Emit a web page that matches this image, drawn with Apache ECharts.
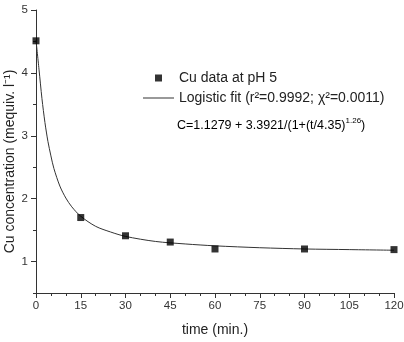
<!DOCTYPE html>
<html>
<head>
<meta charset="UTF-8">
<title>Cu concentration vs time</title>
<script src="https://cdn.jsdelivr.net/npm/echarts@6.0.0/dist/echarts.min.js"></script>
<style>
  html, body { margin: 0; padding: 0; background: #fff; }
  #chart { width: 404px; height: 342px; }
</style>
</head>
<body>
<div id="chart"></div>
<script>
// measured points
const dataTime = [0, 15, 30, 45, 60, 90, 120];
const dataConc = [4.51, 1.70, 1.41, 1.31, 1.20, 1.20, 1.19];

// fitted curve
const fitTime = [0, 1, 2, 3, 4, 5, 6, 8, 10, 12, 15, 20, 25, 30, 40, 50, 60, 75, 90, 105, 120];
const fitConc = [4.52, 4.06, 3.59, 3.21, 2.91, 2.68, 2.48, 2.20, 2.01, 1.87, 1.72, 1.56, 1.47, 1.40, 1.32, 1.28, 1.25, 1.22, 1.20, 1.19, 1.18];

const yMajorTicks = [1, 2, 3, 4, 5];

const dataName = 'Cu data at pH 5';
const fitName = 'Logistic fit (r\u00b2=0.9992; \u03c7\u00b2=0.0011)';

const font = '"Liberation Sans", Arial, sans-serif';
const ink = '#222';

const chart = echarts.init(document.getElementById('chart'));

const yBase = {
    type: 'value',
    min: 0.5,
    max: 5,
    interval: 0.5,
    splitLine: { show: false },
    position: 'left'
};

chart.setOption({
    animation: false,
    grid: { left: 36, right: 10, top: 10, bottom: 49, containLabel: false, outerBoundsMode: 'none' },
    legend: {
        orient: 'vertical',
        left: 143,
        top: 71,
        padding: 0,
        itemWidth: 31,
        itemHeight: 7,
        itemGap: 6,
        textStyle: { fontFamily: font, fontSize: 14, color: ink },
        data: [
            { name: dataName, icon: 'path://M0,0H1V1H0Z' },
            { name: fitName, icon: 'path://M0,0H31V1H0Z' }
        ]
    },
    graphic: [{
        type: 'text',
        left: 177,
        top: 117,
        style: {
            text: '{a|C=1.1279 + 3.3921/(1+(t/4.35)}{s|1.26}{a|)}',
            rich: {
                a: { fontFamily: font, fontSize: 12.5, color: ink, lineHeight: 15, verticalAlign: 'bottom' },
                s: { fontFamily: font, fontSize: 8, color: ink, lineHeight: 15, verticalAlign: 'top', padding: [0, 0, 6, 0] }
            }
        }
    }],
    xAxis: {
        type: 'value',
        min: 0,
        max: 120,
        interval: 15,
        name: 'time (min.)',
        nameLocation: 'middle',
        nameGap: 30,
        nameTextStyle: { fontFamily: font, fontSize: 14, color: ink },
        axisLine: { onZero: false, lineStyle: { color: '#333', width: 1 } },
        axisTick: { length: 5, lineStyle: { color: '#333' } },
        minorTick: { show: true, splitNumber: 3, length: 3, lineStyle: { color: '#333' } },
        axisLabel: { fontFamily: font, fontSize: 11.5, color: '#333', margin: 7 },
        splitLine: { show: false }
    },
    yAxis: [
        Object.assign({}, yBase, {
            name: 'Cu concentration (mequiv. l\u207b\u00b9)',
            nameLocation: 'middle',
            nameGap: 19,
            nameMoveOverlap: false,
            nameTextStyle: { fontFamily: font, fontSize: 14, color: ink, padding: [0, 20, 0, 0] },
            axisLine: { show: true, lineStyle: { color: '#333', width: 1 } },
            axisTick: { show: true, length: 3, lineStyle: { color: '#333' } },
            axisLabel: {
                fontFamily: font, fontSize: 11.5, color: '#333', margin: 8,
                formatter: v => (v % 1 === 0 ? String(v) : '')
            }
        }),
        Object.assign({}, yBase, {
            axisLine: { show: false },
            axisTick: { show: true, length: 5, customValues: yMajorTicks, lineStyle: { color: '#333' } },
            axisLabel: { show: false }
        })
    ],
    series: [
        {
            name: fitName,
            type: 'line',
            data: fitTime.map((t, i) => [t, fitConc[i]]),
            smooth: 0.3,
            showSymbol: false,
            symbol: 'none',
            color: '#333',
            lineStyle: { width: 1, color: '#333' },
            z: 2
        },
        {
            name: dataName,
            type: 'scatter',
            data: dataTime.map((t, i) => [t, dataConc[i]]),
            symbol: 'rect',
            symbolSize: 7,
            color: '#000',
            clip: false,
            z: 3
        }
    ]
});
</script>
</body>
</html>
